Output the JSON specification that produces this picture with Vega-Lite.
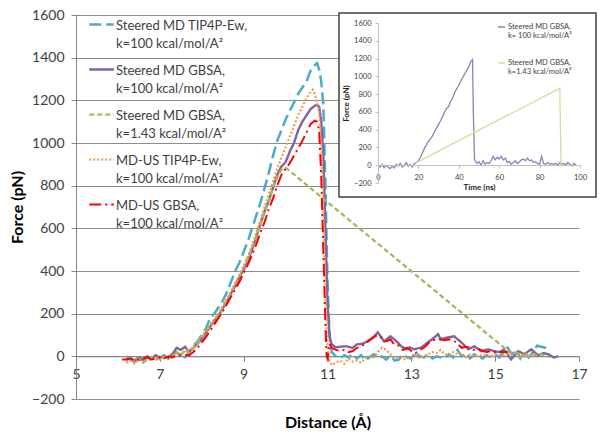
{
 "$schema": "https://vega.github.io/schema/vega-lite/v6.json",
 "background": "white",
 "padding": {"left": 9, "top": 8, "right": 0, "bottom": 0},
 "config": {"font": "Lato", "view": {"stroke": null}},
 "width": 503,
 "height": 384,
 "resolve": {
  "scale": {"x": "independent", "y": "independent", "color": "independent", "strokeDash": "independent", "strokeWidth": "independent"},
  "axis": {"x": "independent", "y": "independent"},
  "legend": {"color": "independent", "strokeDash": "independent", "strokeWidth": "independent"}
 },
 "datasets": {
  "series": [
   {"s": "A", "label": "Steered MD TIP4P-Ew,|k=100  kcal/mol/A²"},
   {"s": "B", "label": "Steered MD GBSA,|k=100 kcal/mol/A²"},
   {"s": "C", "label": "Steered MD GBSA,|k=1.43  kcal/mol/A²"},
   {"s": "D", "label": "MD-US TIP4P-Ew,|k=100 kcal/mol/A²"},
   {"s": "E", "label": "MD-US GBSA,|k=100 kcal/mol/A²"}
  ],
  "insetSeries": [
   {"s": "P", "label": "Steered MD GBSA,|k= 100 kcal/mol/A²"},
   {"s": "Y", "label": "Steered MD GBSA,|k=1.43 kcal/mol/A²"}
  ],
  "box": [{"part": "inset frame"}],
  "main": [
   {"s":"A","d":6.2,"f":0},{"s":"A","d":6.3,"f":-15},{"s":"A","d":6.4,"f":-25},{"s":"A","d":6.5,"f":-10},{"s":"A","d":6.6,"f":-20},{"s":"A","d":6.7,"f":-5},{"s":"A","d":6.8,"f":-10},{"s":"A","d":6.9,"f":0},{"s":"A","d":7.0,"f":-10},{"s":"A","d":7.1,"f":5},{"s":"A","d":7.2,"f":-5},{"s":"A","d":7.3,"f":10},{"s":"A","d":7.4,"f":20},{"s":"A","d":7.5,"f":0},{"s":"A","d":7.6,"f":-5},{"s":"A","d":7.7,"f":20},{"s":"A","d":7.8,"f":50},{"s":"A","d":7.9,"f":70},{"s":"A","d":8.0,"f":100},{"s":"A","d":8.1,"f":130},{"s":"A","d":8.2,"f":180},{"s":"A","d":8.3,"f":200},{"s":"A","d":8.4,"f":230},{"s":"A","d":8.5,"f":260},{"s":"A","d":8.6,"f":300},{"s":"A","d":8.7,"f":350},{"s":"A","d":8.8,"f":400},{"s":"A","d":8.9,"f":440},{"s":"A","d":9.0,"f":490},{"s":"A","d":9.1,"f":540},{"s":"A","d":9.2,"f":600},{"s":"A","d":9.3,"f":660},{"s":"A","d":9.4,"f":720},{"s":"A","d":9.5,"f":790},{"s":"A","d":9.6,"f":860},{"s":"A","d":9.7,"f":940},{"s":"A","d":9.8,"f":1010},{"s":"A","d":9.9,"f":1060},{"s":"A","d":10.0,"f":1110},{"s":"A","d":10.1,"f":1150},{"s":"A","d":10.2,"f":1190},{"s":"A","d":10.3,"f":1230},{"s":"A","d":10.4,"f":1260},{"s":"A","d":10.5,"f":1290},{"s":"A","d":10.6,"f":1340},{"s":"A","d":10.7,"f":1365},{"s":"A","d":10.75,"f":1375},{"s":"A","d":10.8,"f":1345},{"s":"A","d":10.85,"f":1290},{"s":"A","d":10.9,"f":1180},{"s":"A","d":10.95,"f":800},{"s":"A","d":11.0,"f":350},{"s":"A","d":11.05,"f":100},{"s":"A","d":11.1,"f":20},{"s":"A","d":11.2,"f":0},{"s":"A","d":11.3,"f":-10},{"s":"A","d":11.4,"f":5},{"s":"A","d":11.5,"f":-5},{"s":"A","d":11.6,"f":10},{"s":"A","d":11.7,"f":-10},{"s":"A","d":11.8,"f":5},{"s":"A","d":11.9,"f":-20},{"s":"A","d":12.0,"f":-5},{"s":"A","d":12.1,"f":10},{"s":"A","d":12.2,"f":-10},{"s":"A","d":12.3,"f":0},{"s":"A","d":12.4,"f":-15},{"s":"A","d":12.5,"f":5},{"s":"A","d":12.6,"f":-20},{"s":"A","d":12.7,"f":-15},{"s":"A","d":12.8,"f":10},{"s":"A","d":12.9,"f":-5},{"s":"A","d":13.0,"f":-10},{"s":"A","d":13.1,"f":20},{"s":"A","d":13.2,"f":0},{"s":"A","d":13.3,"f":-5},{"s":"A","d":13.4,"f":10},{"s":"A","d":13.5,"f":-10},{"s":"A","d":13.6,"f":0},{"s":"A","d":13.7,"f":-5},{"s":"A","d":13.8,"f":-10},{"s":"A","d":13.9,"f":10},{"s":"A","d":14.0,"f":-5},{"s":"A","d":14.1,"f":30},{"s":"A","d":14.2,"f":0},{"s":"A","d":14.3,"f":15},{"s":"A","d":14.4,"f":-10},{"s":"A","d":14.5,"f":10},{"s":"A","d":14.6,"f":0},{"s":"A","d":14.7,"f":-10},{"s":"A","d":14.8,"f":5},{"s":"A","d":14.9,"f":-5},{"s":"A","d":15.0,"f":10},{"s":"A","d":15.1,"f":-5},{"s":"A","d":15.2,"f":20},{"s":"A","d":15.3,"f":40},{"s":"A","d":15.4,"f":10},{"s":"A","d":15.5,"f":30},{"s":"A","d":15.6,"f":-10},{"s":"A","d":15.7,"f":20},{"s":"A","d":15.8,"f":-5},{"s":"A","d":15.9,"f":20},{"s":"A","d":16.0,"f":50},{"s":"A","d":16.1,"f":45},{"s":"A","d":16.2,"f":40},{"s":"A","d":16.3,"f":30},
   {"s":"B","d":6.2,"f":-15},{"s":"B","d":6.3,"f":-10},{"s":"B","d":6.4,"f":-20},{"s":"B","d":6.5,"f":-5},{"s":"B","d":6.6,"f":-15},{"s":"B","d":6.7,"f":0},{"s":"B","d":6.8,"f":-10},{"s":"B","d":6.9,"f":5},{"s":"B","d":7.0,"f":-5},{"s":"B","d":7.1,"f":0},{"s":"B","d":7.2,"f":-10},{"s":"B","d":7.3,"f":10},{"s":"B","d":7.4,"f":40},{"s":"B","d":7.5,"f":30},{"s":"B","d":7.6,"f":45},{"s":"B","d":7.7,"f":20},{"s":"B","d":7.8,"f":40},{"s":"B","d":7.9,"f":60},{"s":"B","d":8.0,"f":80},{"s":"B","d":8.1,"f":110},{"s":"B","d":8.2,"f":140},{"s":"B","d":8.3,"f":165},{"s":"B","d":8.4,"f":190},{"s":"B","d":8.5,"f":225},{"s":"B","d":8.6,"f":255},{"s":"B","d":8.7,"f":295},{"s":"B","d":8.8,"f":330},{"s":"B","d":8.9,"f":370},{"s":"B","d":9.0,"f":405},{"s":"B","d":9.1,"f":445},{"s":"B","d":9.2,"f":500},{"s":"B","d":9.3,"f":560},{"s":"B","d":9.4,"f":620},{"s":"B","d":9.5,"f":680},{"s":"B","d":9.6,"f":730},{"s":"B","d":9.7,"f":790},{"s":"B","d":9.8,"f":850},{"s":"B","d":9.9,"f":890},{"s":"B","d":10.0,"f":910},{"s":"B","d":10.1,"f":960},{"s":"B","d":10.2,"f":1000},{"s":"B","d":10.3,"f":1060},{"s":"B","d":10.4,"f":1100},{"s":"B","d":10.5,"f":1130},{"s":"B","d":10.6,"f":1160},{"s":"B","d":10.7,"f":1175},{"s":"B","d":10.75,"f":1180},{"s":"B","d":10.8,"f":1170},{"s":"B","d":10.85,"f":1100},{"s":"B","d":10.9,"f":950},{"s":"B","d":10.95,"f":600},{"s":"B","d":11.0,"f":250},{"s":"B","d":11.05,"f":90},{"s":"B","d":11.1,"f":56},{"s":"B","d":11.2,"f":42},{"s":"B","d":11.3,"f":45},{"s":"B","d":11.45,"f":47},{"s":"B","d":11.6,"f":40},{"s":"B","d":11.7,"f":56},{"s":"B","d":11.85,"f":60},{"s":"B","d":11.95,"f":70},{"s":"B","d":12.1,"f":90},{"s":"B","d":12.2,"f":113},{"s":"B","d":12.35,"f":70},{"s":"B","d":12.5,"f":94},{"s":"B","d":12.65,"f":70},{"s":"B","d":12.76,"f":47},{"s":"B","d":12.88,"f":33},{"s":"B","d":12.95,"f":42},{"s":"B","d":13.07,"f":33},{"s":"B","d":13.24,"f":42},{"s":"B","d":13.4,"f":66},{"s":"B","d":13.55,"f":89},{"s":"B","d":13.64,"f":104},{"s":"B","d":13.7,"f":80},{"s":"B","d":13.88,"f":89},{"s":"B","d":14.02,"f":94},{"s":"B","d":14.19,"f":66},{"s":"B","d":14.36,"f":33},{"s":"B","d":14.5,"f":47},{"s":"B","d":14.67,"f":24},{"s":"B","d":14.83,"f":33},{"s":"B","d":14.98,"f":24},{"s":"B","d":15.1,"f":20},{"s":"B","d":15.21,"f":33},{"s":"B","d":15.38,"f":-14},{"s":"B","d":15.55,"f":24},{"s":"B","d":15.7,"f":10},{"s":"B","d":15.86,"f":33},{"s":"B","d":16.02,"f":5},{"s":"B","d":16.15,"f":15},{"s":"B","d":16.26,"f":10},{"s":"B","d":16.4,"f":-5},{"s":"B","d":16.5,"f":0},
   {"s":"C","d":6.3,"f":-10},{"s":"C","d":6.4,"f":-25},{"s":"C","d":6.5,"f":-10},{"s":"C","d":6.6,"f":-30},{"s":"C","d":6.7,"f":-15},{"s":"C","d":6.8,"f":-5},{"s":"C","d":6.9,"f":-20},{"s":"C","d":7.0,"f":0},{"s":"C","d":7.1,"f":-10},{"s":"C","d":7.2,"f":5},{"s":"C","d":7.3,"f":-5},{"s":"C","d":7.4,"f":20},{"s":"C","d":7.5,"f":5},{"s":"C","d":7.6,"f":30},{"s":"C","d":7.7,"f":15},{"s":"C","d":7.8,"f":40},{"s":"C","d":7.9,"f":60},{"s":"C","d":8.0,"f":90},{"s":"C","d":8.1,"f":115},{"s":"C","d":8.2,"f":145},{"s":"C","d":8.3,"f":170},{"s":"C","d":8.4,"f":195},{"s":"C","d":8.5,"f":230},{"s":"C","d":8.6,"f":265},{"s":"C","d":8.7,"f":300},{"s":"C","d":8.8,"f":340},{"s":"C","d":8.9,"f":375},{"s":"C","d":9.0,"f":415},{"s":"C","d":9.1,"f":460},{"s":"C","d":9.2,"f":510},{"s":"C","d":9.3,"f":565},{"s":"C","d":9.4,"f":620},{"s":"C","d":9.5,"f":675},{"s":"C","d":9.6,"f":730},{"s":"C","d":9.7,"f":790},{"s":"C","d":9.8,"f":840},{"s":"C","d":9.9,"f":875},{"s":"C","d":10.0,"f":885},{"s":"C","d":15.4,"f":10},{"s":"C","d":15.5,"f":20},{"s":"C","d":15.6,"f":-5},{"s":"C","d":15.7,"f":15},{"s":"C","d":15.8,"f":0},{"s":"C","d":15.9,"f":10},{"s":"C","d":16.0,"f":5},{"s":"C","d":16.1,"f":10},{"s":"C","d":16.2,"f":0},
   {"s":"D","d":6.2,"f":-30},{"s":"D","d":6.3,"f":-20},{"s":"D","d":6.4,"f":-35},{"s":"D","d":6.5,"f":-15},{"s":"D","d":6.6,"f":-25},{"s":"D","d":6.7,"f":-10},{"s":"D","d":6.8,"f":-20},{"s":"D","d":6.9,"f":-5},{"s":"D","d":7.0,"f":-15},{"s":"D","d":7.1,"f":0},{"s":"D","d":7.2,"f":-10},{"s":"D","d":7.3,"f":5},{"s":"D","d":7.4,"f":15},{"s":"D","d":7.5,"f":10},{"s":"D","d":7.6,"f":25},{"s":"D","d":7.7,"f":30},{"s":"D","d":7.8,"f":45},{"s":"D","d":7.9,"f":70},{"s":"D","d":8.0,"f":95},{"s":"D","d":8.1,"f":120},{"s":"D","d":8.2,"f":150},{"s":"D","d":8.3,"f":175},{"s":"D","d":8.4,"f":200},{"s":"D","d":8.5,"f":235},{"s":"D","d":8.6,"f":270},{"s":"D","d":8.7,"f":305},{"s":"D","d":8.8,"f":345},{"s":"D","d":8.9,"f":385},{"s":"D","d":9.0,"f":425},{"s":"D","d":9.1,"f":470},{"s":"D","d":9.2,"f":520},{"s":"D","d":9.3,"f":580},{"s":"D","d":9.4,"f":640},{"s":"D","d":9.5,"f":700},{"s":"D","d":9.6,"f":760},{"s":"D","d":9.7,"f":820},{"s":"D","d":9.8,"f":880},{"s":"D","d":9.9,"f":930},{"s":"D","d":10.0,"f":980},{"s":"D","d":10.1,"f":1030},{"s":"D","d":10.2,"f":1080},{"s":"D","d":10.3,"f":1130},{"s":"D","d":10.4,"f":1170},{"s":"D","d":10.5,"f":1210},{"s":"D","d":10.6,"f":1240},{"s":"D","d":10.65,"f":1250},{"s":"D","d":10.7,"f":1230},{"s":"D","d":10.8,"f":1150},{"s":"D","d":10.85,"f":1000},{"s":"D","d":10.9,"f":700},{"s":"D","d":10.95,"f":300},{"s":"D","d":11.0,"f":50},{"s":"D","d":11.05,"f":-20},{"s":"D","d":11.1,"f":-40},{"s":"D","d":11.2,"f":-30},{"s":"D","d":11.3,"f":-20},{"s":"D","d":11.4,"f":-35},{"s":"D","d":11.5,"f":-10},{"s":"D","d":11.6,"f":-25},{"s":"D","d":11.7,"f":-20},{"s":"D","d":11.8,"f":-30},{"s":"D","d":11.9,"f":-10},{"s":"D","d":12.0,"f":0},{"s":"D","d":12.1,"f":-5},{"s":"D","d":12.2,"f":20},{"s":"D","d":12.3,"f":40},{"s":"D","d":12.4,"f":30},{"s":"D","d":12.5,"f":10},{"s":"D","d":12.6,"f":-10},{"s":"D","d":12.7,"f":-5},{"s":"D","d":12.8,"f":-15},{"s":"D","d":12.9,"f":-10},{"s":"D","d":13.0,"f":-5},{"s":"D","d":13.1,"f":5},{"s":"D","d":13.2,"f":-10},{"s":"D","d":13.3,"f":0},{"s":"D","d":13.4,"f":10},{"s":"D","d":13.5,"f":20},{"s":"D","d":13.6,"f":15},{"s":"D","d":13.7,"f":30},{"s":"D","d":13.8,"f":10},{"s":"D","d":13.9,"f":5},{"s":"D","d":14.0,"f":20},{"s":"D","d":14.1,"f":10},{"s":"D","d":14.2,"f":15},{"s":"D","d":14.3,"f":-5},{"s":"D","d":14.4,"f":10},{"s":"D","d":14.5,"f":5},{"s":"D","d":14.6,"f":0},{"s":"D","d":14.7,"f":10},{"s":"D","d":14.8,"f":5},{"s":"D","d":14.9,"f":0},{"s":"D","d":15.0,"f":10},{"s":"D","d":15.2,"f":5},{"s":"D","d":15.4,"f":20},{"s":"D","d":15.6,"f":10},{"s":"D","d":15.8,"f":5},{"s":"D","d":16.0,"f":10},
   {"s":"E","d":6.1,"f":-15},{"s":"E","d":6.2,"f":-15},{"s":"E","d":6.3,"f":-10},{"s":"E","d":6.4,"f":-20},{"s":"E","d":6.5,"f":-15},{"s":"E","d":6.6,"f":-10},{"s":"E","d":6.7,"f":-5},{"s":"E","d":6.8,"f":-15},{"s":"E","d":6.9,"f":-10},{"s":"E","d":7.0,"f":-5},{"s":"E","d":7.1,"f":-10},{"s":"E","d":7.2,"f":0},{"s":"E","d":7.3,"f":-5},{"s":"E","d":7.4,"f":5},{"s":"E","d":7.5,"f":5},{"s":"E","d":7.6,"f":5},{"s":"E","d":7.7,"f":5},{"s":"E","d":7.8,"f":20},{"s":"E","d":7.9,"f":40},{"s":"E","d":8.0,"f":65},{"s":"E","d":8.1,"f":90},{"s":"E","d":8.2,"f":120},{"s":"E","d":8.3,"f":150},{"s":"E","d":8.4,"f":180},{"s":"E","d":8.5,"f":210},{"s":"E","d":8.6,"f":245},{"s":"E","d":8.7,"f":280},{"s":"E","d":8.8,"f":315},{"s":"E","d":8.9,"f":350},{"s":"E","d":9.0,"f":390},{"s":"E","d":9.1,"f":430},{"s":"E","d":9.2,"f":475},{"s":"E","d":9.3,"f":525},{"s":"E","d":9.4,"f":580},{"s":"E","d":9.5,"f":630},{"s":"E","d":9.6,"f":690},{"s":"E","d":9.7,"f":740},{"s":"E","d":9.8,"f":800},{"s":"E","d":9.9,"f":850},{"s":"E","d":10.0,"f":880},{"s":"E","d":10.1,"f":905},{"s":"E","d":10.2,"f":940},{"s":"E","d":10.3,"f":975},{"s":"E","d":10.4,"f":1010},{"s":"E","d":10.5,"f":1050},{"s":"E","d":10.6,"f":1090},{"s":"E","d":10.7,"f":1105},{"s":"E","d":10.75,"f":1100},{"s":"E","d":10.8,"f":1060},{"s":"E","d":10.85,"f":850},{"s":"E","d":10.9,"f":500},{"s":"E","d":10.95,"f":150},{"s":"E","d":10.98,"f":0},{"s":"E","d":11.0,"f":-10},{"s":"E","d":11.05,"f":60},{"s":"E","d":11.1,"f":40},{"s":"E","d":11.2,"f":30},{"s":"E","d":11.3,"f":25},{"s":"E","d":11.4,"f":30},{"s":"E","d":11.5,"f":20},{"s":"E","d":11.6,"f":25},{"s":"E","d":11.7,"f":40},{"s":"E","d":11.8,"f":45},{"s":"E","d":11.9,"f":60},{"s":"E","d":12.0,"f":75},{"s":"E","d":12.1,"f":90},{"s":"E","d":12.2,"f":100},{"s":"E","d":12.3,"f":85},{"s":"E","d":12.4,"f":70},{"s":"E","d":12.5,"f":80},{"s":"E","d":12.6,"f":55},{"s":"E","d":12.7,"f":50},{"s":"E","d":12.8,"f":30},{"s":"E","d":12.9,"f":40},{"s":"E","d":13.0,"f":25},{"s":"E","d":13.1,"f":15},{"s":"E","d":13.2,"f":30},{"s":"E","d":13.3,"f":40},{"s":"E","d":13.4,"f":60},{"s":"E","d":13.5,"f":75},{"s":"E","d":13.6,"f":80},{"s":"E","d":13.7,"f":80},{"s":"E","d":13.8,"f":75},{"s":"E","d":13.9,"f":80},{"s":"E","d":14.0,"f":75},{"s":"E","d":14.1,"f":60},{"s":"E","d":14.2,"f":40},{"s":"E","d":14.3,"f":45},{"s":"E","d":14.4,"f":40},{"s":"E","d":14.5,"f":30},{"s":"E","d":14.6,"f":35},{"s":"E","d":14.7,"f":25},{"s":"E","d":14.8,"f":20},{"s":"E","d":14.9,"f":25},{"s":"E","d":15.0,"f":20},{"s":"E","d":15.1,"f":20},{"s":"E","d":15.2,"f":20},{"s":"E","d":15.3,"f":20}
  ],
  "inset": [
   {"s":"P","t":0,"f":0},{"s":"P","t":1,"f":-20},{"s":"P","t":2,"f":10},{"s":"P","t":3,"f":-30},{"s":"P","t":4,"f":0},{"s":"P","t":5,"f":-20},{"s":"P","t":6,"f":-40},{"s":"P","t":7,"f":-10},{"s":"P","t":8,"f":-30},{"s":"P","t":9,"f":10},{"s":"P","t":10,"f":-10},{"s":"P","t":11,"f":20},{"s":"P","t":12,"f":-20},{"s":"P","t":13,"f":0},{"s":"P","t":14,"f":30},{"s":"P","t":15,"f":-10},{"s":"P","t":16,"f":10},{"s":"P","t":17,"f":-20},{"s":"P","t":18,"f":20},{"s":"P","t":19,"f":30},{"s":"P","t":20,"f":50},{"s":"P","t":21,"f":90},{"s":"P","t":22,"f":140},{"s":"P","t":23,"f":190},{"s":"P","t":24,"f":230},{"s":"P","t":25,"f":270},{"s":"P","t":26,"f":300},{"s":"P","t":27,"f":330},{"s":"P","t":28,"f":380},{"s":"P","t":29,"f":420},{"s":"P","t":30,"f":460},{"s":"P","t":31,"f":500},{"s":"P","t":32,"f":550},{"s":"P","t":33,"f":600},{"s":"P","t":34,"f":640},{"s":"P","t":35,"f":660},{"s":"P","t":36,"f":720},{"s":"P","t":37,"f":760},{"s":"P","t":38,"f":820},{"s":"P","t":39,"f":860},{"s":"P","t":40,"f":900},{"s":"P","t":41,"f":950},{"s":"P","t":42,"f":990},{"s":"P","t":43,"f":1030},{"s":"P","t":44,"f":1070},{"s":"P","t":45,"f":1110},{"s":"P","t":46,"f":1170},{"s":"P","t":46.8,"f":1190},{"s":"P","t":47.2,"f":600},{"s":"P","t":47.8,"f":60},{"s":"P","t":49,"f":20},{"s":"P","t":50,"f":40},{"s":"P","t":51,"f":0},{"s":"P","t":52,"f":50},{"s":"P","t":53,"f":10},{"s":"P","t":54,"f":30},{"s":"P","t":55,"f":20},{"s":"P","t":56,"f":50},{"s":"P","t":57,"f":100},{"s":"P","t":58,"f":60},{"s":"P","t":59,"f":90},{"s":"P","t":60,"f":70},{"s":"P","t":61,"f":100},{"s":"P","t":62,"f":60},{"s":"P","t":63,"f":80},{"s":"P","t":64,"f":30},{"s":"P","t":65,"f":40},{"s":"P","t":66,"f":10},{"s":"P","t":67,"f":30},{"s":"P","t":68,"f":50},{"s":"P","t":69,"f":20},{"s":"P","t":70,"f":40},{"s":"P","t":71,"f":60},{"s":"P","t":72,"f":70},{"s":"P","t":73,"f":50},{"s":"P","t":74,"f":80},{"s":"P","t":75,"f":50},{"s":"P","t":76,"f":60},{"s":"P","t":77,"f":30},{"s":"P","t":78,"f":40},{"s":"P","t":79,"f":20},{"s":"P","t":80,"f":10},{"s":"P","t":81,"f":100},{"s":"P","t":82,"f":20},{"s":"P","t":83,"f":10},{"s":"P","t":84,"f":30},{"s":"P","t":85,"f":10},{"s":"P","t":86,"f":20},{"s":"P","t":87,"f":10},{"s":"P","t":88,"f":20},{"s":"P","t":89,"f":0},{"s":"P","t":90,"f":30},{"s":"P","t":91,"f":10},{"s":"P","t":92,"f":20},{"s":"P","t":93,"f":0},{"s":"P","t":94,"f":30},{"s":"P","t":95,"f":10},{"s":"P","t":96,"f":-10},{"s":"P","t":97,"f":20},{"s":"P","t":98,"f":0},
   {"s":"Y","t":19,"f":30},{"s":"Y","t":90,"f":865},{"s":"Y","t":90.6,"f":0}
  ]
 },
 "layer": [
  {
   "data": {"name": "main"},
   "transform": [{"lookup": "s", "from": {"data": {"name": "series"}, "key": "s", "fields": ["label"]}}],
   "mark": {"type": "line", "clip": true},
   "encoding": {
    "x": {"field": "d", "type": "quantitative",
     "scale": {"domain": [5, 17], "nice": false, "zero": false},
     "axis": {"orient": "bottom", "offset": -42.7, "values": [5, 7, 9, 11, 13, 15, 17], "grid": false,
      "title": "Distance (Å)", "titleFontSize": 16, "titleFontWeight": "bold", "titleColor": "#000", "titlePadding": 33,
      "labelFontSize": 14, "labelColor": "#404040", "labelPadding": 6, "tickSize": 5, "tickColor": "#868686",
      "domainColor": "#868686", "labelFlush": false, "format": "d"}},
    "y": {"field": "f", "type": "quantitative",
     "scale": {"domain": [-200, 1600], "nice": false, "zero": false},
     "axis": {"orient": "left", "values": [-200, 0, 200, 400, 600, 800, 1000, 1200, 1400, 1600], "grid": true, "gridColor": "#8c8c8c", "gridWidth": 1,
      "title": "Force (pN)", "titleFontSize": 16, "titleFontWeight": "bold", "titleColor": "#000", "titlePadding": 6,
      "labelFontSize": 14, "labelColor": "#404040", "labelPadding": 7, "tickSize": 5, "tickColor": "#868686",
      "domainColor": "#868686", "labelFlush": false, "format": "d"}},
    "color": {"field": "label", "type": "nominal",
     "scale": {"domain": ["Steered MD TIP4P-Ew,|k=100  kcal/mol/A²", "Steered MD GBSA,|k=100 kcal/mol/A²", "Steered MD GBSA,|k=1.43  kcal/mol/A²", "MD-US TIP4P-Ew,|k=100 kcal/mol/A²", "MD-US GBSA,|k=100 kcal/mol/A²"],
      "range": ["#4BACC6", "#7F64A2", "#9BBB59", "#F79646", "#FF0000"]},
     "legend": {"title": null, "orient": "none", "legendX": 12, "legendY": -4, "symbolType": "stroke", "symbolSize": 600,
      "labelExpr": "split(datum.label, '|')", "labelFontSize": 13, "labelColor": "#404040", "labelLimit": 400,
      "labelOffset": 1, "rowPadding": 5, "labelBaseline": "alphabetic",
      "encode": {"labels": {"update": {"lineHeight": {"value": 18}, "dy": {"value": 5}}}}}},
    "strokeDash": {"field": "label", "type": "nominal",
     "scale": {"domain": ["Steered MD TIP4P-Ew,|k=100  kcal/mol/A²", "Steered MD GBSA,|k=100 kcal/mol/A²", "Steered MD GBSA,|k=1.43  kcal/mol/A²", "MD-US TIP4P-Ew,|k=100 kcal/mol/A²", "MD-US GBSA,|k=100 kcal/mol/A²"],
      "range": [[12, 5], [1, 0], [5, 3], [2, 2], [12, 4, 2, 4]]}},
    "strokeWidth": {"field": "label", "type": "nominal",
     "scale": {"domain": ["Steered MD TIP4P-Ew,|k=100  kcal/mol/A²", "Steered MD GBSA,|k=100 kcal/mol/A²", "Steered MD GBSA,|k=1.43  kcal/mol/A²", "MD-US TIP4P-Ew,|k=100 kcal/mol/A²", "MD-US GBSA,|k=100 kcal/mol/A²"],
      "range": [2.5, 2, 2, 1.6, 3]}}
   }
  },
  {
   "data": {"name": "box"},
   "mark": {"type": "rect", "fill": "white", "stroke": "#404040", "strokeWidth": 1.5},
   "encoding": {
    "x": {"datum": 0, "type": "quantitative", "scale": {"domain": [0, 1], "range": [263, 520]}, "axis": null},
    "x2": {"datum": 1},
    "y": {"datum": 0, "type": "quantitative", "scale": {"domain": [0, 1], "range": [182, -2]}, "axis": null},
    "y2": {"datum": 1}
   }
  },
  {
   "data": {"name": "inset"},
   "transform": [{"lookup": "s", "from": {"data": {"name": "insetSeries"}, "key": "s", "fields": ["label"]}}],
   "mark": {"type": "line", "strokeWidth": 1.3},
   "encoding": {
    "x": {"field": "t", "type": "quantitative",
     "scale": {"domain": [0, 100], "range": [302, 504], "nice": false, "zero": false},
     "axis": {"orient": "bottom", "offset": -234, "zindex": 1, "values": [0, 20, 40, 60, 80, 100], "grid": false,
      "title": "Time (ns)", "titleFontSize": 8, "titleFontWeight": "bold", "titleColor": "#222", "titlePadding": 3,
      "labelFontSize": 7.5, "labelColor": "#404040", "labelPadding": 5, "tickSize": 3, "tickColor": "#c0c0c0",
      "domainColor": "#c0c0c0", "labelFlush": false, "format": "d"}},
    "y": {"field": "f", "type": "quantitative",
     "scale": {"domain": [-200, 1600], "range": [168, 8], "nice": false, "zero": false},
     "axis": {"orient": "left", "offset": -302, "zindex": 1, "values": [-200, 0, 200, 400, 600, 800, 1000, 1200, 1400, 1600], "grid": false,
      "title": "Force (pN)", "titleFontSize": 8, "titleFontWeight": "bold", "titleColor": "#222", "titlePadding": 3,
      "labelFontSize": 7.5, "labelColor": "#404040", "labelPadding": 4, "tickSize": 3, "tickColor": "#c0c0c0",
      "domainColor": "#c0c0c0", "labelFlush": false, "format": "d"}},
    "color": {"field": "label", "type": "nominal",
     "scale": {"domain": ["Steered MD GBSA,|k= 100 kcal/mol/A²", "Steered MD GBSA,|k=1.43 kcal/mol/A²"], "range": ["#8A84B8", "#D6DB9A"]},
     "legend": {"title": null, "orient": "none", "legendX": 421, "legendY": -2, "symbolType": "stroke", "symbolSize": 49, "symbolStrokeWidth": 1.3,
      "clipHeight": 28,
      "labelExpr": "split(datum.label, '|')", "labelFontSize": 7.5, "labelColor": "#404040", "labelLimit": 200,
      "labelOffset": 2, "rowPadding": 8, "labelBaseline": "top",
      "encode": {"labels": {"update": {"lineHeight": {"value": 9}, "dy": {"value": -4}}}}}}
   }
  }
 ]
}
